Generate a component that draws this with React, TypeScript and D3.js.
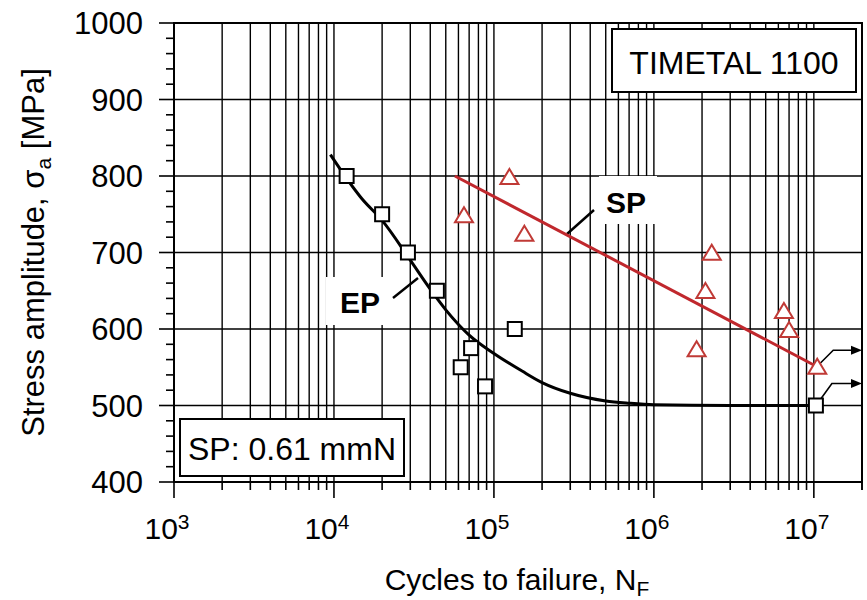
import React from "react";
import * as d3 from "d3";

const W = 867;
const H = 600;
const plot = { left: 174, right: 862, top: 23, bottom: 482 };

const xDomain: [number, number] = [1e3, 2e7];
const yDomain: [number, number] = [400, 1000];
const xLabelExponents = [3, 4, 5, 6, 7];
const yTickValues = [400, 500, 600, 700, 800, 900, 1000];

// EP specimens (failures)
const epCycles = [1.2e4, 2.0e4, 2.9e4, 4.4e4, 6.2e4, 7.2e4, 8.8e4, 1.35e5];
const epStress = [800, 750, 700, 650, 550, 575, 525, 600];
// EP run-out
const epRunoutCycles = [1.03e7];
const epRunoutStress = [500];
// EP fitted S-N curve
const epCurveCycles = [9.5e3, 1.5e4, 2e4, 3e4, 4e4, 5e4, 7e4, 1e5, 1.5e5, 2e5, 3e5, 5e5, 7e5, 1e6, 3e6, 1e7];
const epCurveStress = [828, 770, 742, 690, 652, 625, 592, 568, 545, 530, 516, 506, 503, 501, 500, 500];

// SP specimens (failures)
const spCycles = [6.5e4, 1.25e5, 1.55e5, 1.85e6, 2.1e6, 2.3e6, 6.5e6, 7.0e6];
const spStress = [748, 798, 724, 573, 649, 699, 623, 598];
// SP run-out
const spRunoutCycles = [1.05e7];
const spRunoutStress = [550];
// SP fitted line
const spLineCycles = [5.7e4, 1.0e7];
const spLineStress = [800, 553];

const FONT = "'Liberation Sans', Arial, Helvetica, sans-serif";
const RED = "#c0282d";
const RED_MARK = "#c03a36";

export default function App() {
  const x = d3.scaleLog().domain(xDomain).range([plot.left, plot.right]);
  const y = d3.scaleLinear().domain(yDomain).range([plot.bottom, plot.top]);

  // vertical grid: every 1..9 x 10^n inside the domain
  const xGrid: number[] = [];
  for (let e = 3; e <= 7; e++) {
    for (let m = 1; m <= 9; m++) {
      const v = m * Math.pow(10, e);
      if (v >= xDomain[0] && v <= xDomain[1]) xGrid.push(v);
    }
  }
  xGrid.push(2e7);
  const yMinor = d3.range(420, 1000, 20).filter((v) => v % 100 !== 0);

  const epLine = d3
    .line<number>()
    .x((_, i) => x(epCurveCycles[i]))
    .y((_, i) => y(epCurveStress[i]))
    .curve(d3.curveMonotoneX)(epCurveCycles);

  const spLine = d3
    .line<number>()
    .x((_, i) => x(spLineCycles[i]))
    .y((_, i) => y(spLineStress[i]))(spLineCycles);

  const tri = (cx: number, cy: number) =>
    `M${cx},${cy - 8.5} L${cx + 9},${cy + 6.5} L${cx - 9},${cy + 6.5} Z`;

  const runoutArrow = (px: number, py: number, rise: number, key: string) => {
    const yh = py - rise;
    const tip = plot.right;
    return (
      <g key={key}>
        <polyline
          points={`${px + 3},${py - 4} ${px + 16},${yh} ${tip - 9},${yh}`}
          fill="none"
          stroke="#000"
          strokeWidth={1.6}
        />
        <path d={`M${tip},${yh} L${tip - 11},${yh - 4.5} L${tip - 11},${yh + 4.5} Z`} fill="#000" />
      </g>
    );
  };

  const sq = 14;

  return (
    <svg
      width={W}
      height={H}
      viewBox={`0 0 ${W} ${H}`}
      style={{ position: "absolute", left: 0, top: 0, background: "#fff" }}
      fontFamily={FONT}
    >
      <rect x={0} y={0} width={W} height={H} fill="#fff" />

      {/* grid */}
      <g stroke="#000" strokeWidth={1.4}>
        {xGrid.map((v, i) => (
          <line key={`xg${i}`} x1={x(v)} x2={x(v)} y1={plot.top} y2={plot.bottom} />
        ))}
        {yTickValues.map((v) => (
          <line key={`yg${v}`} x1={plot.left} x2={plot.right} y1={y(v)} y2={y(v)} />
        ))}
      </g>

      {/* ticks */}
      <g stroke="#000" strokeWidth={1.6}>
        {yTickValues.map((v) => (
          <line key={`yt${v}`} x1={plot.left - 15} x2={plot.left} y1={y(v)} y2={y(v)} />
        ))}
        {yMinor.map((v) => (
          <line key={`ym${v}`} x1={plot.left - 8} x2={plot.left} y1={y(v)} y2={y(v)} />
        ))}
        {xGrid.map((v, i) => {
          const major = Math.abs(Math.log10(v) - Math.round(Math.log10(v))) < 1e-9;
          return (
            <line
              key={`xt${i}`}
              x1={x(v)}
              x2={x(v)}
              y1={plot.bottom}
              y2={plot.bottom + (major ? 16 : 8)}
            />
          );
        })}
      </g>

      {/* frame */}
      <rect
        x={plot.left}
        y={plot.top}
        width={plot.right - plot.left}
        height={plot.bottom - plot.top}
        fill="none"
        stroke="#000"
        strokeWidth={2}
      />

      {/* y tick labels */}
      <g fontSize={31} textAnchor="end" fill="#000">
        {yTickValues.map((v) => (
          <text key={`yl${v}`} x={plot.left - 31} y={y(v) + 11}>
            {v}
          </text>
        ))}
      </g>

      {/* x tick labels */}
      <g fill="#000">
        {xLabelExponents.map((e) => (
          <text key={`xl${e}`} x={x(Math.pow(10, e)) - 7} y={539} fontSize={30} textAnchor="middle">
            10
            <tspan fontSize={21} dy={-10}>
              {e}
            </tspan>
          </text>
        ))}
      </g>

      {/* axis titles */}
      <text x={517} y={590} fontSize={30} textAnchor="middle" fill="#000">
        Cycles to failure, N
        <tspan fontSize={21} dy={6}>
          F
        </tspan>
      </text>
      <text
        transform={`translate(44, ${(plot.top + plot.bottom) / 2}) rotate(-90)`}
        fontSize={31}
        textAnchor="middle"
        fill="#000"
      >
        Stress amplitude, σ
        <tspan fontSize={21} dy={7}>
          a
        </tspan>
        <tspan dy={-7}> [MPa]</tspan>
      </text>

      {/* curve labels with white backgrounds */}
      <rect x={326} y={277} width={62} height={48} fill="#fff" />
      <text x={340} y={313} fontSize={30} fontWeight="bold" fill="#000">
        EP
      </text>
      <line x1={393} y1={298} x2={418} y2={278} stroke="#000" strokeWidth={2.4} />

      <rect x={599} y={176} width={58} height={48} fill="#fff" />
      <text x={606} y={213} fontSize={30} fontWeight="bold" fill="#000">
        SP
      </text>
      <line x1={567} y1={234} x2={594} y2={210} stroke="#000" strokeWidth={2.4} />

      {/* fitted curves */}
      <path d={epLine ?? ""} fill="none" stroke="#000" strokeWidth={3} />
      <path d={spLine ?? ""} fill="none" stroke={RED} strokeWidth={3} />

      {/* run-out arrows */}
      {epRunoutCycles.map((c, i) => runoutArrow(x(c), y(epRunoutStress[i]), 22, `era${i}`))}
      {spRunoutCycles.map((c, i) => runoutArrow(x(c), y(spRunoutStress[i]), 17, `sra${i}`))}

      {/* EP markers */}
      <g fill="#fff" stroke="#000" strokeWidth={2}>
        {epCycles.map((c, i) => (
          <rect key={`ep${i}`} x={x(c) - sq / 2} y={y(epStress[i]) - sq / 2} width={sq} height={sq} />
        ))}
        {epRunoutCycles.map((c, i) => (
          <rect key={`epr${i}`} x={x(c) - sq / 2} y={y(epRunoutStress[i]) - sq / 2} width={sq} height={sq} />
        ))}
      </g>

      {/* SP markers */}
      <g fill="#fff" stroke={RED_MARK} strokeWidth={2}>
        {spCycles.map((c, i) => (
          <path key={`sp${i}`} d={tri(x(c), y(spStress[i]))} />
        ))}
        {spRunoutCycles.map((c, i) => (
          <path key={`spr${i}`} d={tri(x(c), y(spRunoutStress[i]))} />
        ))}
      </g>

      {/* info boxes */}
      <rect x={612} y={29} width={244} height={63} fill="#fff" stroke="#000" strokeWidth={2} />
      <text x={734} y={74} fontSize={32} textAnchor="middle" fill="#000">
        TIMETAL 1100
      </text>

      <rect x={180} y={419} width={224} height={57} fill="#fff" stroke="#000" strokeWidth={2} />
      <text x={292} y={460} fontSize={32} textAnchor="middle" fill="#000">
        SP: 0.61 mmN
      </text>
    </svg>
  );
}
